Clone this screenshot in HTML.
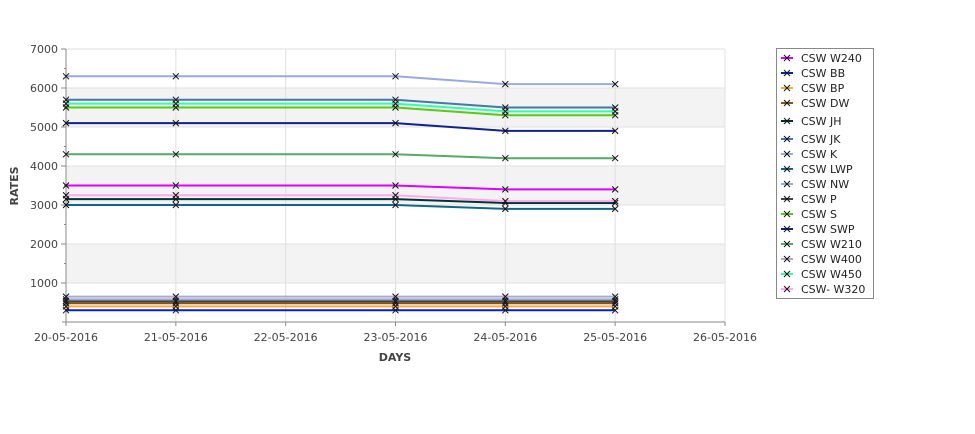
<!DOCTYPE html>
<html><head><meta charset="utf-8"><style>
body{margin:0;background:#fff;font-family:"Liberation Sans",sans-serif}
text{font-family:"DejaVu Sans","Liberation Sans",sans-serif}
</style></head><body>
<svg id="c" width="975" height="429" xmlns="http://www.w3.org/2000/svg"></svg>
<script>
const dates=["20-05-2016","21-05-2016","22-05-2016","23-05-2016","24-05-2016","25-05-2016","26-05-2016"];
const pointDays=[0,1,3,4,5];
const seriesNames=["CSW  W240","CSW BB","CSW BP","CSW DW","CSW JH","CSW JK","CSW K","CSW LWP","CSW NW","CSW P","CSW S","CSW SWP","CSW W210","CSW W400","CSW W450","CSW- W320"];
const seriesColors=["#dd00ff","#0022bb","#ffaa33","#885511","#003333","#4477aa","#99aadd","#116688","#99aadd","#444444","#55cc11","#112288","#55aa66","#aaaacc","#33ffaa","#ffaaee"];
const W240=[3500,3500,3500,3400,3400];
const BB=[300,300,300,300,300];
const BP=[400,400,400,400,400];
const DW=[480,480,480,480,480];
const JH=[3150,3150,3150,3050,3050];
const JK=[5700,5700,5700,5500,5500];
const K=[6300,6300,6300,6100,6100];
const LWP=[3000,3000,3000,2900,2900];
const NW=[580,580,580,580,580];
const P=[530,530,530,530,530];
const S=[5500,5500,5500,5300,5300];
const SWP=[5100,5100,5100,4900,4900];
const W210=[4300,4300,4300,4200,4200];
const W400=[650,650,650,650,650];
const W450=[5600,5600,5600,5400,5400];
const W320=[3250,3250,3250,3100,3100];
const seriesValues=[W240,BB,BP,DW,JH,JK,K,LWP,NW,P,S,SWP,W210,W400,W450,W320];
const yTicks=[1000,2000,3000,4000,5000,6000,7000];

const svg=document.getElementById('c');const NS="http://www.w3.org/2000/svg";
const X0=66,X1=725,Y0=322,Y1=49,YMAX=7000;
const xs=d=>X0+d*(X1-X0)/(dates.length-1);
const ys=v=>Y0-v*(Y0-Y1)/YMAX;
function el(t,a,p){const e=document.createElementNS(NS,t);for(const k in a)e.setAttribute(k,a[k]);(p||svg).appendChild(e);return e;}
// bands
[1000,3000,5000].forEach(v=>{const r=el('rect',{x:X0,y:ys(v+1000),width:X1-X0,height:ys(v)-ys(v+1000),fill:'#f3f3f3'});

});
yTicks.forEach(v=>{const l=el('line',{x1:X0,x2:X1,y1:ys(v),y2:ys(v),stroke:'#e0e0e0'});


const t=el('text',{x:X0-8,y:ys(v)+4,'text-anchor':'end','font-size':11,fill:'#444'});t.textContent=v;


el('line',{x1:X0-5,x2:X0,y1:ys(v),y2:ys(v),stroke:'#888'});
el('line',{x1:X0-2,x2:X0,y1:ys(v-500),y2:ys(v-500),stroke:'#888'});});
dates.forEach((d,i)=>{const l=el('line',{x1:xs(i),x2:xs(i),y1:Y1,y2:Y0,stroke:'#e0e0e0'});


el('line',{x1:xs(i),x2:xs(i),y1:Y0,y2:Y0+4,stroke:'#888'});
const t=el('text',{x:xs(i),y:Y0+19,'text-anchor':'middle','font-size':11,fill:'#444'});t.textContent=d;

});
el('line',{x1:X0,x2:X0,y1:Y1,y2:Y0+1,stroke:'#888'});
el('line',{x1:X0-4,x2:X1,y1:Y0,y2:Y0,stroke:'#888'});
let t=el('text',{x:395,y:361,'text-anchor':'middle','font-size':11,'font-weight':'bold',fill:'#444'});t.textContent='DAYS';


t=el('text',{x:0,y:0,'text-anchor':'middle','font-size':11,'font-weight':'bold',fill:'#444',transform:`translate(18,186) rotate(-90)`});t.textContent='RATES';


function cross(x,y,g){el('path',{d:`M${x-3} ${y-3}L${x+3} ${y+3}M${x-3} ${y+3}L${x+3} ${y-3}`,stroke:'#111','stroke-width':1},g);}
seriesValues.forEach((vals,si)=>{const g=el('g',{});


el('polyline',{points:vals.map((v,i)=>xs(pointDays[i])+','+ys(v)).join(' '),fill:'none',stroke:seriesColors[si],'stroke-width':2},g);
vals.forEach((v,i)=>cross(xs(pointDays[i]),ys(v),g));});
// legend
const lg=el('g',{});


el('rect',{x:776.5,y:48.5,width:97,height:250,fill:'#fff',stroke:'#888'},lg);
const ly=[58,73,88,103,121,139,154,169,184,199,214,229,244,259,274,289];
seriesNames.forEach((n,i)=>{const g=el('g',{},lg);


el('line',{x1:781,x2:793,y1:ly[i],y2:ly[i],stroke:seriesColors[i],'stroke-width':2},g);cross(787,ly[i],g);
const tt=el('text',{x:801,y:ly[i]+4,'font-size':11,fill:'#222'},g);tt.textContent=n;});
</script></body></html>
